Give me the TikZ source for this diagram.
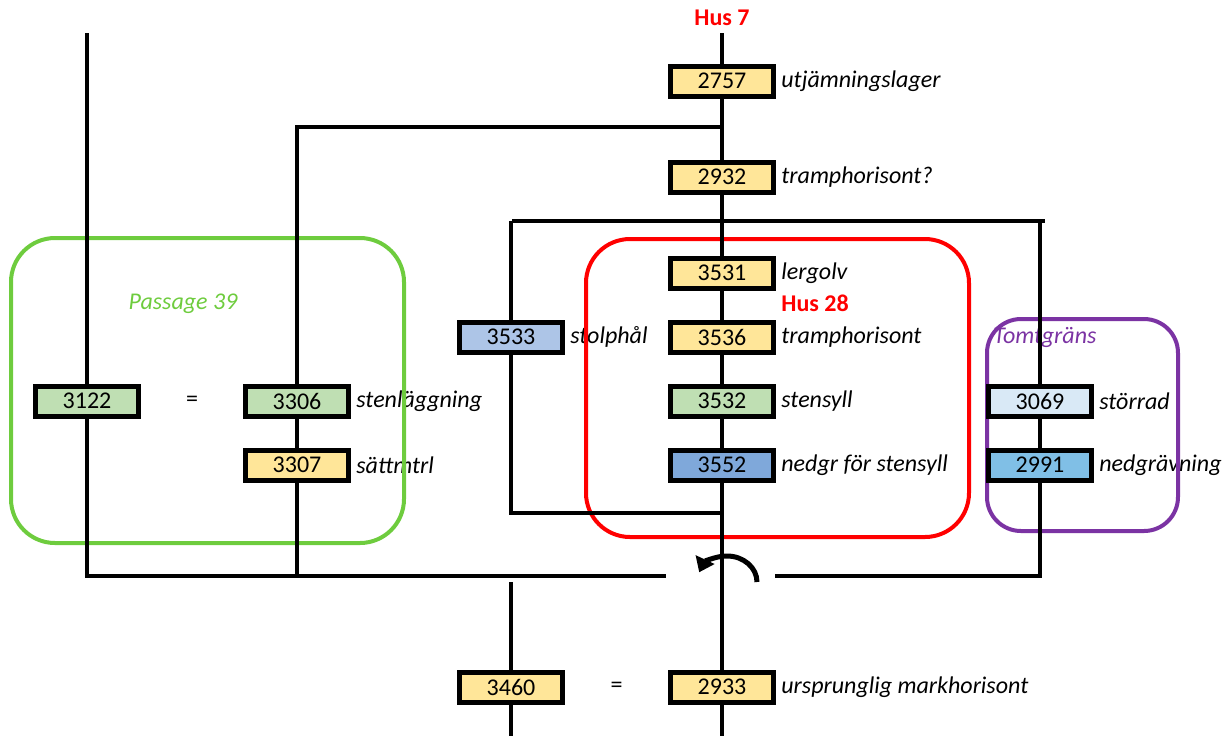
\documentclass[tikz,border=0pt]{standalone}
\usepackage{fontspec}
\setmainfont{Carlito}
\usetikzlibrary{arrows.meta,positioning,backgrounds}

\definecolor{sandY}{HTML}{FFE699}
\definecolor{mossG}{HTML}{BFDFB3}
\definecolor{greyB}{HTML}{ADC5E7}
\definecolor{deepB}{HTML}{7FA8DA}
\definecolor{paleB}{HTML}{D9E9F6}
\definecolor{skyB}{HTML}{80BFE6}
\definecolor{passG}{HTML}{6ECC3E}
\definecolor{tomtP}{HTML}{7B33A3}

\pgfdeclarelayer{words}
\pgfsetlayers{words,background,main}

\begin{document}
\begin{tikzpicture}[
  x=0.5pt, y=-0.5pt,
  node distance=14.5pt and 51.5pt,
  ctx/.style={rectangle, draw, line width=2.5pt, minimum width=51.5pt,
              minimum height=15pt, inner sep=0pt, fill=sandY,
              font=\fontsize{12}{14}\selectfont},
  desc/.style={inner sep=0pt, font=\fontsize{12}{14}\selectfont\itshape},
  hus/.style={inner sep=0pt, text=red, font=\fontsize{12}{14}\selectfont\bfseries},
  area/.style={inner sep=0pt, font=\fontsize{12}{14}\selectfont\itshape},
  link/.style={line width=2pt},
  frame/.style={line width=2pt, rounded corners=22pt},
  turn/.style={line width=2.5pt, -{Triangle[length=7pt,width=10pt]}},
]
  \useasboundingbox (0,0) rectangle (1228,736);

  % -- Main column: Hus 7 / Hus 28 --
  \node[hus] (hus7) at (722,18) {Hus 7};
  \node[ctx] (c2757) at (722,81) {2757};
  \node[ctx, below=30.5pt of c2757] (c2932) {2932};
  \node[ctx, below=30.5pt of c2932] (c3531) {3531};
  \node[ctx, below=of c3531] (c3536) {3536};
  \node[ctx, below=of c3536, fill=mossG] (c3532) {3532};
  \node[ctx, below=of c3532, fill=deepB] (c3552) {3552};
  \node[ctx, below=93.5pt of c3552] (c2933) {2933};

  % -- Side columns --
  \node[ctx, left=of c3536, fill=greyB] (c3533) {3533};
  \node[ctx, left=of c2933] (c3460) {3460};
  \node[ctx, right=105pt of c3532, fill=paleB] (c3069) {3069};
  \node[ctx, below=of c3069, fill=skyB] (c2991) {2991};
  \node[ctx, left=158.5pt of c3532, fill=mossG] (c3306) {3306};
  \node[ctx, below=of c3306] (c3307) {3307};
  \node[ctx, left=51pt of c3306, fill=mossG] (c3122) {3122};

  % labels
  \begin{pgfonlayer}{words}
    \node[desc, right=2.5pt of c2757] (l2757) {utjämningslager};
    \node[desc, right=2.5pt of c2932] (l2932) {tramphorisont?};
    \node[desc, right=2.5pt of c3531] (l3531) {lergolv};
    \node[desc, right=2.5pt of c3536] (l3536) {tramphorisont};
    \node[desc, right=2.5pt of c3532] (l3532) {stensyll};
    \node[desc, right=2.5pt of c3552] (l3552) {nedgr för stensyll};
    \node[desc, right=2.5pt of c2933] (l2933) {ursprunglig markhorisont};
    \node[hus, anchor=west] (hus28) at (781,303) {Hus 28};
    \node[desc, right=2.5pt of c3533] (l3533) {stolphål};
    \node[desc, right=2.5pt of c3069] (l3069) {störrad};
    \node[desc, right=2.5pt of c2991] (l2991) {nedgrävning};
    \node[area, anchor=west, text=tomtP] (tomt) at (993,337) {Tomtgräns};
    \node[desc, right=2.5pt of c3306] (l3306) {stenläggning};
    \node[desc, right=2.5pt of c3307] (l3307) {sättmtrl};
    \node[area, text=passG] (pass39) at (183,304) {Passage 39};
    % equal signs
    \path (c3122) -- node[desc, font=\fontsize{12}{14}\selectfont] (eq1) {=} (c3306);
    \path (c3460) -- node[desc, font=\fontsize{12}{14}\selectfont] (eq2) {=} (c2933);
  \end{pgfonlayer}

  % free line ends
  \coordinate (topL) at (87,33);
  \coordinate (topM) at (722,33);
  \coordinate (fork1) at (722,127);
  \coordinate (splitL) at (512,221);
  \coordinate (splitR) at (1045,221);
  \coordinate (postEnd) at (722,513);
  \coordinate (floorL) at (87,576);
  \coordinate (gapL) at (666,576);
  \coordinate (gapR) at (775,576);
  \coordinate (lowTop) at (511,582);
  \coordinate (botL) at (511,736);
  \coordinate (botM) at (722,736);

  \begin{scope}[on background layer]
    % frames
    \draw[frame, passG] (11,238) rectangle (404,543);
    \draw[frame, red] (586,239) rectangle (969,537);
    \draw[frame, tomtP, rounded corners=17pt] (987,319) rectangle (1178,531);

    % lines
    \draw[link] (topM) -- (botM);
    \draw[link] (topL) -- (floorL) -- (gapL);
    \draw[link] (fork1) -| (c3306) -- (c3306 |- floorL);
    \draw[link] (splitL) -- (splitR);
    \draw[link] (c3533 |- splitL) -- (c3533) |- (postEnd);
    \draw[link] (c3069 |- splitL) -- (c3069 |- gapR) -- (gapR);
    \draw[link] (lowTop) -- (botL);
  \end{scope}

  % rotation mark
  \draw[turn] (757,582) arc[start angle=0, end angle=158, x radius=15pt, y radius=13pt];

\end{tikzpicture}
\end{document}
